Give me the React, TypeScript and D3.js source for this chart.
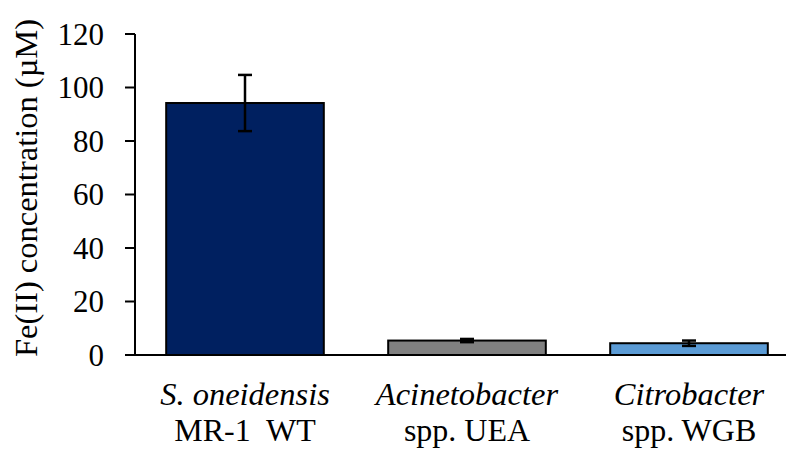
import React from "react";
import * as d3 from "d3";

const categories = ["S. oneidensis|MR-1  WT", "Acinetobacter|spp. UEA", "Citrobacter|spp. WGB"];
const values = [94.2, 5.4, 4.4];
const errors = [10.5, 0.6, 1.0];
const colors = ["#002060", "#808080", "#5B9BD5"];
const yTicks = [0, 20, 40, 60, 80, 100, 120];

const W = 786;
const H = 449;
const FONT = "Liberation Serif";

export default function App() {
  const y = d3.scaleLinear().domain([0, 120]).range([355, 34]);
  const x = d3
    .scaleBand<string>()
    .domain(categories)
    .range([134, 800])
    .paddingInner(0.29)
    .paddingOuter(0.145);
  const axisX = 135;

  return (
    <div style={{ position: "absolute", left: 0, top: 0 }}>
      <svg width={W} height={H} style={{ display: "block", background: "#fff" }}>
        {categories.map((c, i) => (
          <rect
            key={c}
            x={x(c)}
            y={y(values[i])}
            width={x.bandwidth()}
            height={y(0) - y(values[i])}
            fill={colors[i]}
            stroke="#000"
            strokeWidth={2}
          />
        ))}
        {categories.map((c, i) => {
          const cx = (x(c) as number) + x.bandwidth() / 2;
          const top = y(values[i] + errors[i]);
          const bot = y(values[i] - errors[i]);
          return (
            <g key={"e" + c} stroke="#000" strokeWidth={2.5}>
              <line x1={cx} x2={cx} y1={top} y2={bot} />
              <line x1={cx - 7} x2={cx + 7} y1={top} y2={top} />
              <line x1={cx - 7} x2={cx + 7} y1={bot} y2={bot} />
            </g>
          );
        })}
        <line x1={axisX} x2={axisX} y1={y(120)} y2={y(0)} stroke="#000" strokeWidth={2} />
        <line x1={125} x2={W} y1={y(0)} y2={y(0)} stroke="#000" strokeWidth={2} />
        {yTicks.map((t) => (
          <g key={t}>
            <line x1={125} x2={axisX} y1={y(t)} y2={y(t)} stroke="#000" strokeWidth={2} />
            <text x={104} y={y(t)} dy="0.35em" textAnchor="end" fontSize={31} fontFamily={FONT} fill="#000">
              {t}
            </text>
          </g>
        ))}
        {categories.map((c) => {
          const cx = (x(c) as number) + x.bandwidth() / 2;
          const [l1, l2] = c.split("|");
          return (
            <g key={"l" + c}>
              <text x={cx} y={405} fontStyle="italic" fontSize={32.5} fontFamily={FONT} textAnchor="middle" fill="#000">
                {l1}
              </text>
              <text x={cx} y={441} fontSize={32} fontFamily={FONT} textAnchor="middle" fill="#000" style={{ whiteSpace: "pre" }}>
                {l2}
              </text>
            </g>
          );
        })}
        <text
          transform={`translate(37, ${(18 + 358) / 2}) rotate(-90)`}
          textAnchor="middle"
          fontSize={32.5}
          fontFamily={FONT}
          fill="#000"
        >
          Fe(II) concentration (µM)
        </text>
      </svg>
    </div>
  );
}
